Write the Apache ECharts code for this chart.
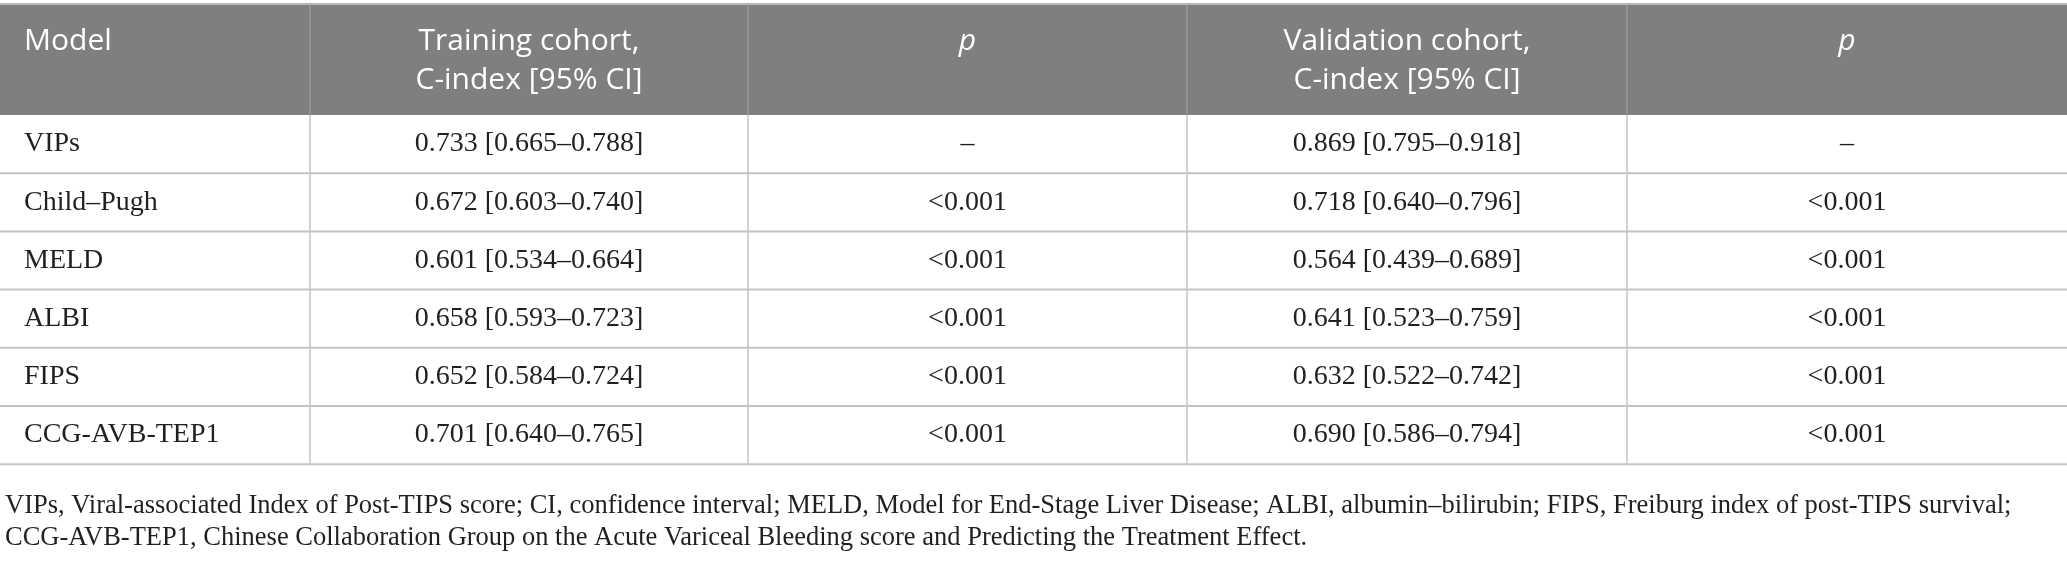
<!DOCTYPE html>
<html>
<head>
<meta charset="utf-8">
<script src="https://cdn.jsdelivr.net/npm/echarts@6/dist/echarts.min.js"></script>
<style>
  html, body { margin: 0; padding: 0; background: #fff; }
  #table { width: 2067px; height: 572px; }
</style>
</head>
<body>
<div id="table"></div>
<script>
// table content
var headers = ['Model', 'Training cohort,\nC-index [95% CI]', 'p', 'Validation cohort,\nC-index [95% CI]', 'p'];
var models = ['VIPs', 'Child\u2013Pugh', 'MELD', 'ALBI', 'FIPS', 'CCG-AVB-TEP1'];
var trainC  = [0.733, 0.672, 0.601, 0.658, 0.652, 0.701];
var trainLo = [0.665, 0.603, 0.534, 0.593, 0.584, 0.640];
var trainHi = [0.788, 0.740, 0.664, 0.723, 0.724, 0.765];
var trainP  = ['\u2013', '<0.001', '<0.001', '<0.001', '<0.001', '<0.001'];
var validC  = [0.869, 0.718, 0.564, 0.641, 0.632, 0.690];
var validLo = [0.795, 0.640, 0.439, 0.523, 0.522, 0.586];
var validHi = [0.918, 0.796, 0.689, 0.759, 0.742, 0.794];
var validP  = ['\u2013', '<0.001', '<0.001', '<0.001', '<0.001', '<0.001'];
var footnote = 'VIPs, Viral-associated Index of Post-TIPS score; CI, confidence interval; MELD, Model for End-Stage Liver Disease; ALBI, albumin\u2013bilirubin; FIPS, Freiburg index of post-TIPS survival;\n' +
  'CCG-AVB-TEP1, Chinese Collaboration Group on the Acute Variceal Bleeding score and Predicting the Treatment Effect.';

// layout (axis units = pixels)
var colEdges = [0, 310, 748, 1187, 1627, 2067];
var headTop = 4, headBottom = 115, rowH = 58.2;
var headColor = '#7f807e';
var lineColor = '#c4c4c4';

function ci(c, lo, hi) {
  return c.toFixed(3) + ' [' + lo.toFixed(3) + '\u2013' + hi.toFixed(3) + ']';
}

var rows = models.map(function (m, i) {
  return [i, m, ci(trainC[i], trainLo[i], trainHi[i]), trainP[i], ci(validC[i], validLo[i], validHi[i]), validP[i]];
});

var chart = echarts.init(document.getElementById('table'));

function renderHeader(params, api) {
  var tl = api.coord([colEdges[0], headTop]);
  var br = api.coord([colEdges[5], headBottom]);
  var kids = [{
    type: 'rect',
    shape: { x: tl[0], y: tl[1], width: br[0] - tl[0], height: br[1] - tl[1] },
    style: { fill: headColor }
  }, {
    type: 'line',
    shape: { x1: tl[0], y1: tl[1], x2: br[0], y2: tl[1] },
    style: { stroke: '#b8b8b8', lineWidth: 2 }
  }];
  for (var c = 0; c < headers.length; c++) {
    if (c > 0) {
      var p = api.coord([colEdges[c], 0]);
      kids.push({
        type: 'line',
        shape: { x1: p[0], y1: tl[1], x2: p[0], y2: br[1] },
        style: { stroke: '#a3a3a3', lineWidth: 1 }
      });
    }
    var x = c === 0 ? api.coord([colEdges[0] + 24, 0])[0]
                    : api.coord([(colEdges[c] + colEdges[c + 1]) / 2, 0])[0];
    kids.push({
      type: 'text',
      x: x,
      y: api.coord([0, 22])[1],
      style: {
        text: headers[c],
        fill: '#ffffff',
        font: (headers[c] === 'p' ? 'italic ' : '') + '30px "Open Sans"',
        lineHeight: 39,
        align: c === 0 ? 'left' : 'center',
        verticalAlign: 'top'
      }
    });
  }
  return { type: 'group', children: kids };
}

function renderRow(params, api) {
  var i = api.value(0);
  var y0 = headBottom + i * rowH;
  var tl = api.coord([colEdges[0], y0]);
  var br = api.coord([colEdges[5], y0 + rowH]);
  var kids = [{
    type: 'line',
    shape: { x1: tl[0], y1: br[1], x2: br[0], y2: br[1] },
    style: { stroke: lineColor, lineWidth: 2 }
  }];
  var cells = rows[i].slice(1);
  for (var c = 0; c < cells.length; c++) {
    if (c > 0) {
      var p = api.coord([colEdges[c], 0]);
      kids.push({
        type: 'line',
        shape: { x1: p[0], y1: tl[1], x2: p[0], y2: br[1] },
        style: { stroke: lineColor, lineWidth: 1.5 }
      });
    }
    var x = c === 0 ? api.coord([colEdges[0] + 24, 0])[0]
                    : api.coord([(colEdges[c] + colEdges[c + 1]) / 2, 0])[0];
    kids.push({
      type: 'text',
      x: x,
      y: (tl[1] + br[1]) / 2,
      style: {
        text: cells[c],
        fill: '#231f20',
        font: '28px "Liberation Serif"',
        align: c === 0 ? 'left' : 'center',
        verticalAlign: 'middle'
      }
    });
  }
  return { type: 'group', children: kids };
}

chart.setOption({
  animation: false,
  title: {
    text: footnote,
    left: 0,
    top: 485,
    textStyle: {
      fontFamily: 'Liberation Serif',
      fontWeight: 'normal',
      fontSize: 26.5,
      lineHeight: 32,
      color: '#231f20'
    }
  },
  grid: { left: 0, right: 0, top: 0, bottom: 572 - 480 },
  xAxis: { type: 'value', min: 0, max: 2067, show: false },
  yAxis: { type: 'value', min: 0, max: 480, inverse: true, show: false },
  series: [{
    type: 'custom',
    renderItem: renderHeader,
    data: [[0]],
    clip: false,
    silent: true
  }, {
    type: 'custom',
    renderItem: renderRow,
    data: rows.map(function (r) { return [r[0]]; }),
    encode: { x: -1, y: -1 },
    clip: false,
    silent: true
  }]
});
</script>
</body>
</html>
